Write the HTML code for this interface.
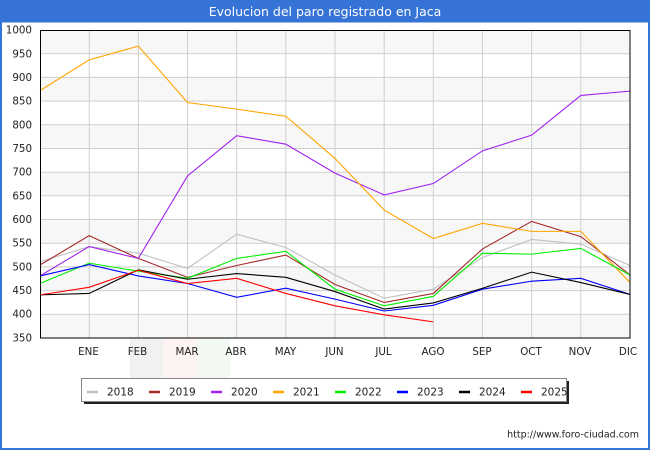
<!DOCTYPE html>
<html><head><meta charset="utf-8"><style>
html,body{margin:0;padding:0;background:#fff;}
svg{display:block;}
text{font-family:"DejaVu Sans","Liberation Sans",sans-serif;}
</style></head><body>
<svg width="650" height="450" viewBox="0 0 650 450" xmlns="http://www.w3.org/2000/svg">
<rect x="0" y="0" width="650" height="450" fill="#fff"/>
<rect x="0" y="0" width="650" height="22.5" fill="#3673d6"/>
<rect x="0" y="0" width="2" height="450" fill="#3673d6"/>
<rect x="648" y="0" width="2" height="450" fill="#3673d6"/>
<rect x="0" y="448" width="650" height="2" fill="#3673d6"/>
<text x="325" y="16" font-size="12.5" fill="#fff" text-anchor="middle">Evolucion del paro registrado en Jaca</text>

<!-- bands -->
<g fill="#f7f7f7">
<rect x="40" y="30" width="590" height="23.69"/>
<rect x="40" y="77.38" width="590" height="23.69"/>
<rect x="40" y="124.77" width="590" height="23.69"/>
<rect x="40" y="172.15" width="590" height="23.69"/>
<rect x="40" y="219.54" width="590" height="23.69"/>
<rect x="40" y="266.92" width="590" height="23.69"/>
<rect x="40" y="314.31" width="590" height="23.69"/>
</g>
<!-- watermark -->
<rect x="130" y="338.5" width="33" height="40" fill="#f1f1f1"/>
<rect x="163" y="338.5" width="34" height="40" fill="#fdf3f3"/>
<rect x="197" y="338.5" width="33" height="40" fill="#f2f8f2"/>

<g stroke="#cfcfcf" stroke-width="1">
<line x1="40" x2="630" y1="53.7" y2="53.7"/>
<line x1="40" x2="630" y1="77.4" y2="77.4"/>
<line x1="40" x2="630" y1="101.1" y2="101.1"/>
<line x1="40" x2="630" y1="124.8" y2="124.8"/>
<line x1="40" x2="630" y1="148.5" y2="148.5"/>
<line x1="40" x2="630" y1="172.2" y2="172.2"/>
<line x1="40" x2="630" y1="195.8" y2="195.8"/>
<line x1="40" x2="630" y1="219.5" y2="219.5"/>
<line x1="40" x2="630" y1="243.2" y2="243.2"/>
<line x1="40" x2="630" y1="266.9" y2="266.9"/>
<line x1="40" x2="630" y1="290.6" y2="290.6"/>
<line x1="40" x2="630" y1="314.3" y2="314.3"/>
<line y1="30" y2="338" x1="89.2" x2="89.2"/>
<line y1="30" y2="338" x1="138.3" x2="138.3"/>
<line y1="30" y2="338" x1="187.5" x2="187.5"/>
<line y1="30" y2="338" x1="236.7" x2="236.7"/>
<line y1="30" y2="338" x1="285.8" x2="285.8"/>
<line y1="30" y2="338" x1="335" x2="335"/>
<line y1="30" y2="338" x1="384.2" x2="384.2"/>
<line y1="30" y2="338" x1="433.3" x2="433.3"/>
<line y1="30" y2="338" x1="482.5" x2="482.5"/>
<line y1="30" y2="338" x1="531.7" x2="531.7"/>
<line y1="30" y2="338" x1="580.8" x2="580.8"/>
</g>

<g transform="translate(40,30) scale(49.1667,-0.47385) translate(0,-1000)" fill="none" stroke-width="1.1">
<polyline vector-effect="non-scaling-stroke" stroke="#c0c0c0" points="0,511 1,543 2,529 3,497 4,569 5,541 6,483 7,434 8,453 9,520 10,558 11,548 12,503"/>
<polyline vector-effect="non-scaling-stroke" stroke="#a52a2a" points="0,504 1,566 2,518 3,478 4,503 5,525 6,463 7,425 8,444 9,538 10,596 11,564 12,483"/>
<polyline vector-effect="non-scaling-stroke" stroke="#a020f0" points="0,481 1,543 2,518 3,692 4,777 5,759 6,698 7,652 8,676 9,745 10,778 11,862 12,871"/>
<polyline vector-effect="non-scaling-stroke" stroke="#ffa500" points="0,872 1,937 2,966 3,847 4,833 5,818 6,729 7,620 8,560 9,592 10,575 11,575 12,467"/>
<polyline vector-effect="non-scaling-stroke" stroke="#00ee00" points="0,465 1,508 2,491 3,476 4,518 5,533 6,453 7,418 8,438 9,529 10,527 11,539 12,483"/>
<polyline vector-effect="non-scaling-stroke" stroke="#0000ff" points="0,481 1,505 2,481 3,465 4,436 5,455 6,432 7,407 8,419 9,453 10,470 11,476 12,442"/>
<polyline vector-effect="non-scaling-stroke" stroke="#000000" points="0,441 1,444 2,494 3,474 4,486 5,478 6,448 7,411 8,424 9,455 10,489 11,467 12,442"/>
<polyline vector-effect="non-scaling-stroke" stroke="#ff0000" points="0,441 1,457 2,493 3,465 4,476 5,444 6,418 7,399 8,384"/>
</g>

<rect x="40.5" y="30.5" width="589.5" height="307.5" fill="none" stroke="#000" stroke-width="1"/>

<g font-size="10.3" fill="#222" text-anchor="end">
<text x="32" y="33.5">1000</text>
<text x="32" y="57.5">950</text>
<text x="32" y="81">900</text>
<text x="32" y="104.5">850</text>
<text x="32" y="128.5">800</text>
<text x="32" y="152">750</text>
<text x="32" y="175.5">700</text>
<text x="32" y="199.5">650</text>
<text x="32" y="223">600</text>
<text x="32" y="246.5">550</text>
<text x="32" y="270.5">500</text>
<text x="32" y="294">450</text>
<text x="32" y="317.5">400</text>
<text x="32" y="341.5">350</text>
</g>
<g font-size="10.3" fill="#222" text-anchor="middle">
<text x="88.5" y="355">ENE</text>
<text x="137.5" y="355">FEB</text>
<text x="187" y="355">MAR</text>
<text x="236" y="355">ABR</text>
<text x="285.5" y="355">MAY</text>
<text x="334.5" y="355">JUN</text>
<text x="383.5" y="355">JUL</text>
<text x="433" y="355">AGO</text>
<text x="482" y="355">SEP</text>
<text x="531" y="355">OCT</text>
<text x="580" y="355">NOV</text>
<text x="628" y="355">DIC</text>
</g>

<!-- legend -->
<rect x="84" y="381" width="485" height="23" fill="#222"/>
<rect x="81.5" y="378.5" width="485" height="23" fill="#fff" stroke="#888" stroke-width="1"/>
<g stroke-width="2.5">
<line x1="87" x2="98" y1="392" y2="392" stroke="#c0c0c0"/>
<line x1="149" x2="160" y1="392" y2="392" stroke="#a52a2a"/>
<line x1="211" x2="222" y1="392" y2="392" stroke="#a020f0"/>
<line x1="273" x2="284" y1="392" y2="392" stroke="#ffa500"/>
<line x1="335" x2="346" y1="392" y2="392" stroke="#00ee00"/>
<line x1="397" x2="408" y1="392" y2="392" stroke="#0000ff"/>
<line x1="459" x2="470" y1="392" y2="392" stroke="#000"/>
<line x1="521" x2="532" y1="392" y2="392" stroke="#ff0000"/>
</g>
<g font-size="10.5" fill="#222">
<text x="107" y="395.5">2018</text>
<text x="169" y="395.5">2019</text>
<text x="231" y="395.5">2020</text>
<text x="293" y="395.5">2021</text>
<text x="355" y="395.5">2022</text>
<text x="417" y="395.5">2023</text>
<text x="479" y="395.5">2024</text>
<text x="541" y="395.5">2025</text>
</g>

<text x="639" y="437.5" font-size="9.5" fill="#222" text-anchor="end">http://www.foro-ciudad.com</text>
</svg>
</body></html>
